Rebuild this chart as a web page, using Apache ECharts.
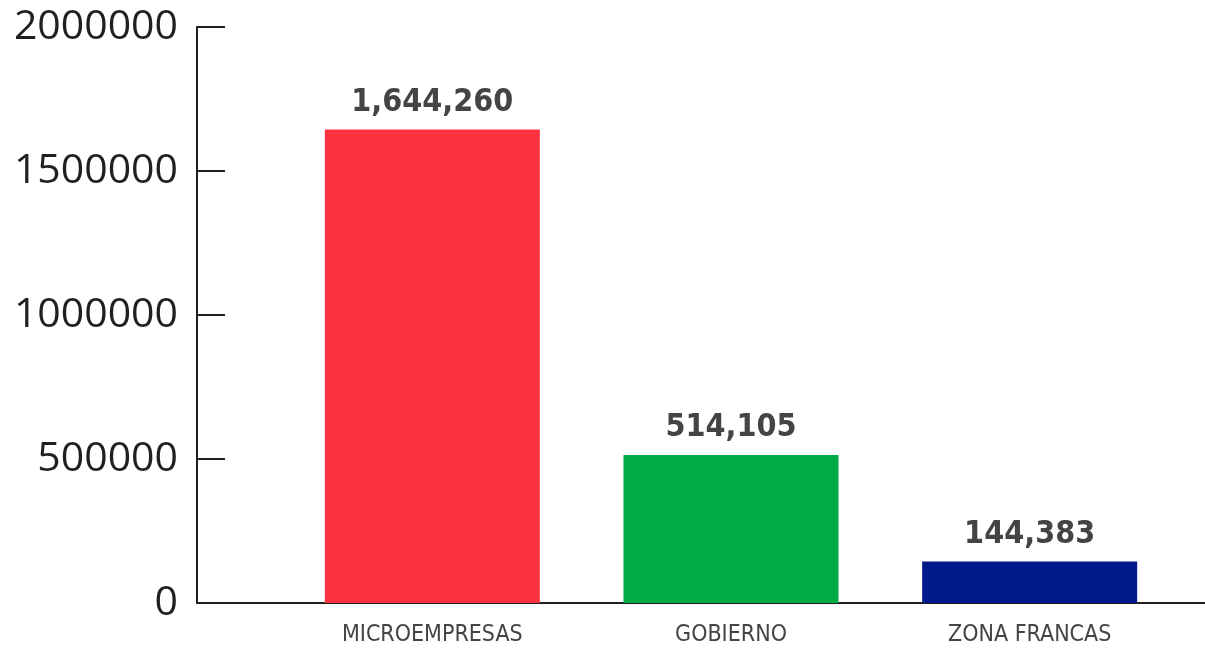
<!DOCTYPE html>
<html><head><meta charset="utf-8">
<script src="https://cdn.jsdelivr.net/npm/echarts@6/dist/echarts.min.js"></script>
<style>html,body{margin:0;padding:0;background:#fff}#c{width:1205px;height:653px}</style>
</head><body><div id="c"></div>
<script>
const categories = ['MICROEMPRESAS', 'GOBIERNO', 'ZONA FRANCAS'];
const values = [1644260, 514105, 144383];
const colors = ['#FC3240', '#00AB46', '#001A8A'];
const yTicks = [0, 500000, 1000000, 1500000, 2000000];

const chart = echarts.init(document.getElementById('c'));
chart.setOption({
  animation: false,
  grid: [
    {left: 197, right: 0, top: 27, bottom: 50, containLabel: false, outerBoundsMode: 'none'},
    {left: 283, right: 26, top: 27, bottom: 50, containLabel: false, outerBoundsMode: 'none'}
  ],
  xAxis: [
    {gridIndex: 0, type: 'value', min: 0, max: 1, axisLine: {show: true, onZero: false, lineStyle: {color: '#231f20', width: 2}},
     axisTick: {show: false}, axisLabel: {show: false}, splitLine: {show: false}},
    {gridIndex: 1, type: 'category', data: categories,
     axisLine: {show: false}, axisTick: {show: false},
     axisLabel: {margin: 21, color: '#444', fontSize: 23, fontFamily: '"Liberation Sans Narrow", "DejaVu Sans Condensed", sans-serif'}}
  ],
  yAxis: [
    {gridIndex: 0, type: 'value', min: yTicks[0], max: yTicks[yTicks.length - 1], interval: 500000,
     axisLine: {show: true, lineStyle: {color: '#231f20', width: 2}},
     axisTick: {show: true, inside: true, length: 28, lineStyle: {color: '#231f20', width: 2}},
     axisLabel: {margin: 19, color: '#231f20', fontSize: 41, fontFamily: '"Open Sans", sans-serif',
       padding: [8, 0, 0, 0], formatter: v => String(v)},
     splitLine: {show: false}},
    {gridIndex: 1, type: 'value', min: yTicks[0], max: yTicks[yTicks.length - 1], show: false}
  ],
  series: [{
    type: 'bar', xAxisIndex: 1, yAxisIndex: 1, barWidth: 215,
    data: values.map((v, i) => ({value: v, itemStyle: {color: colors[i]}})),
    label: {show: true, position: 'top', distance: 11, color: '#444', fontWeight: 'bold', fontSize: 32,
      fontFamily: '"Liberation Sans Narrow", "DejaVu Sans Condensed", sans-serif',
      formatter: p => p.value.toLocaleString('en-US')}
  }]
});
</script></body></html>
